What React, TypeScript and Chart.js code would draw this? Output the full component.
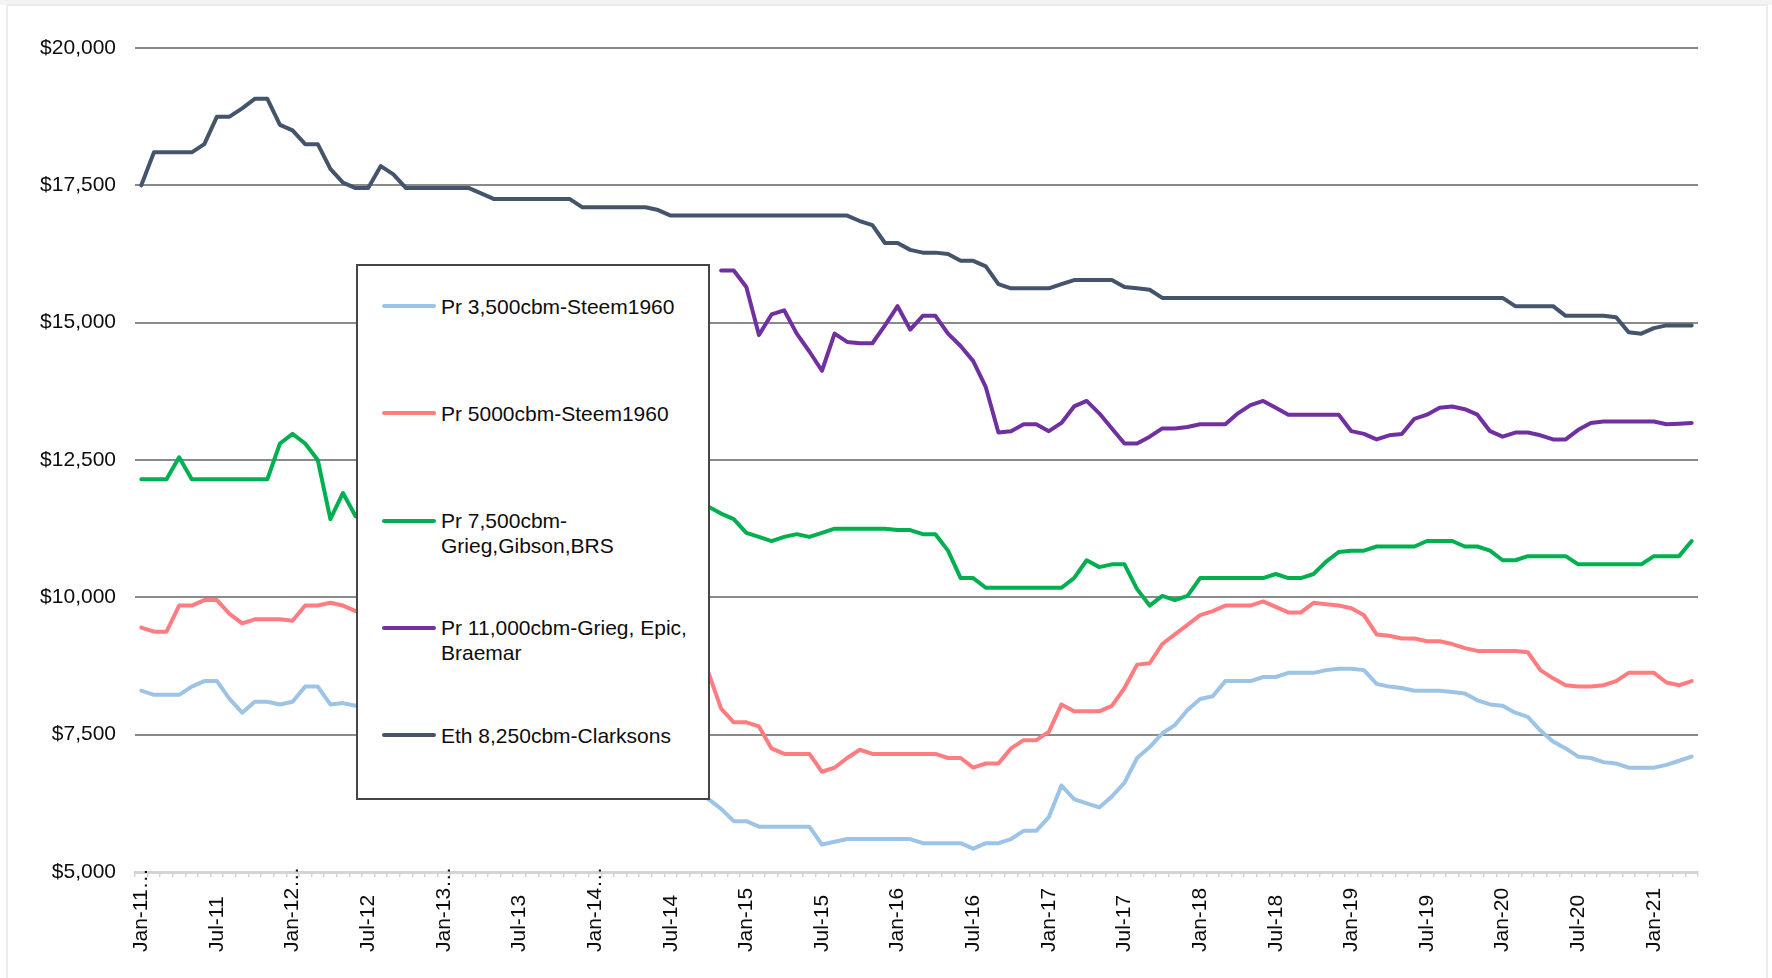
import { useEffect, useRef } from "react";
import { Chart, registerables } from "chart.js";

Chart.register(...registerables);

const FONT = '"Liberation Sans", Arial, Helvetica, sans-serif';

// Monthly categories, Jan-11 .. Apr-21
const MONTH_NAMES = ["Jan", "Feb", "Mar", "Apr", "May", "Jun", "Jul", "Aug", "Sep", "Oct", "Nov", "Dec"];
const categories: string[] = [];
for (let yr = 11; yr <= 21; yr++) {
  for (let m = 0; m < 12; m++) {
    if (yr === 21 && m > 3) break;
    categories.push(`${MONTH_NAMES[m]}-${yr}`);
  }
}

// Axis labels, one every six months
const LABEL_STEP = 6;
const xTickLabels = [
  "Jan-11…", "Jul-11", "Jan-12…", "Jul-12", "Jan-13…", "Jul-13", "Jan-14…", "Jul-14",
  "Jan-15", "Jul-15", "Jan-16", "Jul-16", "Jan-17", "Jul-17", "Jan-18", "Jul-18",
  "Jan-19", "Jul-19", "Jan-20", "Jul-20", "Jan-21",
];

const Y_MIN = 5000;
const Y_MAX = 20000;
const Y_STEP = 2500;

const seriesNames = [
  "Pr 3,500cbm-Steem1960",
  "Pr 5000cbm-Steem1960",
  "Pr 7,500cbm-Grieg,Gibson,BRS",
  "Pr 11,000cbm-Grieg, Epic, Braemar",
  "Eth 8,250cbm-Clarksons",
];
const seriesColors = ["#9DC3E6", "#FF7C80", "#00B050", "#7030A0", "#44546A"];

const pr3500 = [
  8300, 8225, 8225, 8225, 8375, 8475, 8475, 8150, 7900, 8100,
  8100, 8050, 8100, 8375, 8375, 8050, 8075, 8025, 8000, 7975,
  7950, 7950, 7900, 7850, 7850, 7800, 7750, 7700, 7700, 7650,
  7600, 7550, 7500, 7450, 7400, 7300, 7200, 7100, 7000, 6950,
  6850, 6750, 6650, 6550, 6450, 6325, 6150, 5925, 5925, 5825,
  5825, 5825, 5825, 5825, 5500, 5550, 5600, 5600, 5600, 5600,
  5600, 5600, 5525, 5525, 5525, 5525, 5425, 5525, 5525, 5600,
  5750, 5750, 6000, 6575, 6325, 6250, 6175, 6375, 6625, 7075,
  7275, 7525, 7675, 7950, 8150, 8200, 8475, 8475, 8475, 8550,
  8550, 8625, 8625, 8625, 8675, 8700, 8700, 8675, 8425, 8375,
  8350, 8300, 8300, 8300, 8275, 8250, 8125, 8050, 8025, 7900,
  7825, 7575, 7375, 7250, 7100, 7075, 7000, 6975, 6900, 6900,
  6900, 6950, 7025, 7100,
];

const pr5000 = [
  9450, 9375, 9375, 9850, 9850, 9950, 9950, 9700, 9525, 9600,
  9600, 9600, 9575, 9850, 9850, 9900, 9850, 9750, 9700, 9650,
  9650, 9600, 9600, 9550, 9550, 9500, 9500, 9450, 9450, 9400,
  9400, 9400, 9350, 9350, 9300, 9300, 9300, 9250, 9250, 9200,
  9200, 9150, 9150, 9100, 9050, 8625, 7975, 7725, 7725, 7650,
  7250, 7150, 7150, 7150, 6825, 6900, 7075, 7225, 7150, 7150,
  7150, 7150, 7150, 7150, 7075, 7075, 6900, 6975, 6975, 7250,
  7400, 7400, 7550, 8050, 7925, 7925, 7925, 8025, 8350, 8775,
  8800, 9150, 9325, 9500, 9675, 9750, 9850, 9850, 9850, 9925,
  9825, 9725, 9725, 9900, 9875, 9850, 9800, 9675, 9325, 9300,
  9250, 9250, 9200, 9200, 9150, 9075, 9025, 9025, 9025, 9025,
  9000, 8675, 8525, 8400, 8375, 8375, 8400, 8475, 8625, 8625,
  8625, 8450, 8400, 8475,
];

const pr7500 = [
  12150, 12150, 12150, 12550, 12150, 12150, 12150, 12150, 12150, 12150,
  12150, 12800, 12975, 12800, 12500, 11425, 11900, 11475, 11450, 11500,
  11650, 11750, 11750, 11850, 11900, 11900, 11950, 11950, 11900, 11850,
  11850, 11800, 11800, 11750, 11750, 11700, 11700, 11650, 11650, 11600,
  11600, 11650, 11700, 11750, 11750, 11650, 11525, 11425, 11175, 11100,
  11025, 11100, 11150, 11100, 11175, 11250, 11250, 11250, 11250, 11250,
  11225, 11225, 11150, 11150, 10850, 10350, 10350, 10175, 10175, 10175,
  10175, 10175, 10175, 10175, 10350, 10675, 10550, 10600, 10600, 10150,
  9850, 10025, 9950, 10025, 10350, 10350, 10350, 10350, 10350, 10350,
  10425, 10350, 10350, 10425, 10650, 10825, 10850, 10850, 10925, 10925,
  10925, 10925, 11025, 11025, 11025, 10925, 10925, 10850, 10675, 10675,
  10750, 10750, 10750, 10750, 10600, 10600, 10600, 10600, 10600, 10600,
  10750, 10750, 10750, 11025,
];

const pr11000 = [
  null, null, null, null, null, null, null, null, null, null,
  null, null, null, null, null, null, null, null, null, null,
  null, null, null, null, null, null, null, null, null, null,
  null, null, null, null, null, null, null, null, null, null,
  null, null, null, null, null, null, 15950, 15950, 15650, 14775,
  15150, 15225, 14800, 14475, 14125, 14800, 14650, 14625, 14625, 14950,
  15300, 14875, 15125, 15125, 14800, 14575, 14300, 13825, 13000, 13025,
  13150, 13150, 13025, 13175, 13475, 13575, 13350, 13075, 12800, 12800,
  12925, 13075, 13075, 13100, 13150, 13150, 13150, 13350, 13500, 13575,
  13450, 13325, 13325, 13325, 13325, 13325, 13025, 12975, 12875, 12950,
  12975, 13250, 13325, 13450, 13475, 13425, 13325, 13025, 12925, 13000,
  13000, 12950, 12875, 12875, 13050, 13175, 13200, 13200, 13200, 13200,
  13200, 13150, 13160, 13175,
];

const eth8250 = [
  17500, 18100, 18100, 18100, 18100, 18250, 18750, 18750, 18900, 19075,
  19075, 18600, 18500, 18250, 18250, 17800, 17550, 17450, 17450, 17850,
  17700, 17450, 17450, 17450, 17450, 17450, 17450, 17350, 17250, 17250,
  17250, 17250, 17250, 17250, 17250, 17100, 17100, 17100, 17100, 17100,
  17100, 17050, 16950, 16950, 16950, 16950, 16950, 16950, 16950, 16950,
  16950, 16950, 16950, 16950, 16950, 16950, 16950, 16850, 16775, 16450,
  16450, 16325, 16275, 16275, 16250, 16125, 16125, 16025, 15700, 15625,
  15625, 15625, 15625, 15700, 15775, 15775, 15775, 15775, 15650, 15625,
  15600, 15450, 15450, 15450, 15450, 15450, 15450, 15450, 15450, 15450,
  15450, 15450, 15450, 15450, 15450, 15450, 15450, 15450, 15450, 15450,
  15450, 15450, 15450, 15450, 15450, 15450, 15450, 15450, 15450, 15300,
  15300, 15300, 15300, 15125, 15125, 15125, 15125, 15100, 14825, 14800,
  14900, 14950, 14950, 14950,
];

const seriesValues = [pr3500, pr5000, pr7500, pr11000, eth8250];

// Rotated month labels, anchored at a common baseline below the axis
const monthLabelsPlugin = {
  id: "monthLabels",
  afterDraw(chart: any) {
    const { ctx } = chart;
    const x = chart.scales.x;
    const baseY = x.top + 80;
    ctx.save();
    ctx.font = `21px ${FONT}`;
    ctx.fillStyle = "#0d0d0d";
    ctx.textAlign = "left";
    ctx.textBaseline = "middle";
    xTickLabels.forEach((label, k) => {
      const px = x.getPixelForValue(k * LABEL_STEP);
      ctx.save();
      ctx.translate(px, baseY);
      ctx.rotate(-Math.PI / 2);
      ctx.fillText(label, 0, 0);
      ctx.restore();
    });
    ctx.restore();
  },
};

export default function App() {
  const canvasRef = useRef<HTMLCanvasElement>(null);

  useEffect(() => {
    const canvas = canvasRef.current;
    if (!canvas) return;
    const chart = new Chart(canvas, {
      type: "line",
      data: {
        labels: categories,
        datasets: seriesNames.map((name, i) => ({
          label: name,
          data: seriesValues[i],
          borderColor: seriesColors[i],
          backgroundColor: seriesColors[i],
          borderWidth: 4,
          pointRadius: 0,
          pointHoverRadius: 0,
          tension: 0,
          fill: false,
          spanGaps: false,
          borderJoinStyle: "round" as const,
          borderCapStyle: "round" as const,
        })),
      },
      options: {
        responsive: false,
        animation: false,
        events: [],
        layout: { padding: { left: 40, right: 74, top: 48, bottom: 0 } },
        plugins: {
          legend: { display: false },
          tooltip: { enabled: false },
          title: { display: false },
        },
        scales: {
          x: {
            type: "category",
            offset: true,
            afterFit: (s: any) => {
              s.height = 106;
            },
            ticks: { display: false, autoSkip: false },
            grid: {
              display: true,
              offset: true,
              drawOnChartArea: false,
              drawTicks: true,
              tickLength: 5,
              color: "#d4d4d4",
              lineWidth: 1.5,
            },
            border: { display: true, color: "#d4d4d4", width: 3 },
          },
          y: {
            min: Y_MIN,
            max: Y_MAX,
            afterFit: (s: any) => {
              s.width = 95;
            },
            ticks: {
              stepSize: Y_STEP,
              padding: 19,
              color: "#0d0d0d",
              font: { family: FONT, size: 21 },
              callback: (v: any) => "$" + Number(v).toLocaleString("en-US"),
            },
            grid: {
              drawTicks: false,
              lineWidth: 2,
              color: (ctx: any) => (ctx.tick && ctx.tick.value === Y_MIN ? "rgba(0,0,0,0)" : "#8a8a8a"),
            },
            border: { display: false },
          },
        },
      },
      plugins: [monthLabelsPlugin],
    });
    return () => chart.destroy();
  }, []);

  const itemTop = (k: number) => 40 + k * 107.25;

  return (
    <div
      style={{
        position: "fixed",
        left: 0,
        top: 0,
        width: 1772,
        height: 978,
        background: "#ffffff",
        overflow: "hidden",
        fontFamily: FONT,
      }}
    >
      <div style={{ position: "absolute", left: 0, top: 0, width: 1772, height: 5, background: "#f3f3f3" }} />
      <div
        style={{
          position: "absolute",
          left: 6,
          top: 4,
          width: 1762,
          height: 1000,
          border: "2px solid #ececec",
          boxSizing: "border-box",
        }}
      />
      <canvas ref={canvasRef} width={1772} height={978} style={{ position: "absolute", left: 0, top: 0 }} />
      <div
        style={{
          position: "absolute",
          left: 356,
          top: 264,
          width: 354,
          height: 536,
          border: "2px solid #454545",
          background: "#ffffff",
          boxSizing: "border-box",
        }}
      >
        {seriesNames.map((name, k) => (
          <div key={name}>
            <div
              style={{
                position: "absolute",
                left: 24,
                top: itemTop(k) - 2,
                width: 54,
                height: 4,
                borderRadius: 2,
                background: seriesColors[k],
              }}
            />
            <div
              style={{
                position: "absolute",
                left: 83,
                top: itemTop(k) - 12.5,
                width: 262,
                fontSize: 21,
                lineHeight: "25px",
                color: "#0d0d0d",
                whiteSpace: "normal",
              }}
            >
              {name}
            </div>
          </div>
        ))}
      </div>
    </div>
  );
}
